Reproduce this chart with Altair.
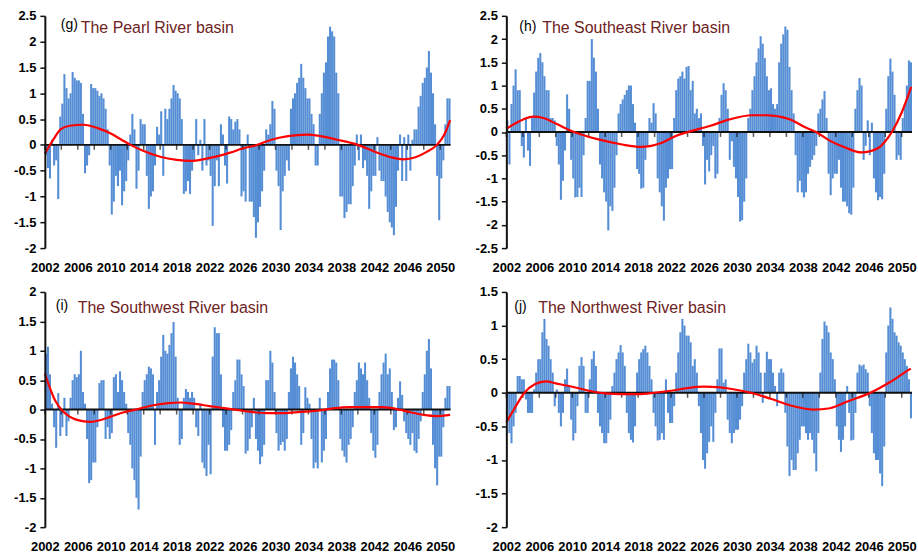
import altair as alt
import pandas as pd

START_YEAR = 2002
PER_YEAR = 4
X_END = 2051.25
LABEL_YEARS = list(range(2002, 2051, 4))
TICK_YEARS = list(range(2002, 2051, 2))

TAGS = ["(g)", "(h)", "(i)", "(j)"]
NAMES = ["The Pearl River basin", "The Southeast River basin",
         "The Southwest River basin", "The Northwest River basin"]

# quarterly values, 2002 Q1 ... 2051 Q1
PEARL = [
    -0.2, -0.45, -0.65, 0.1,   -0.4, -0.3, -1.05, 0.55,   0.8, 1.37, 1.1, 0.9,
    1.0, 1.41, 1.3, 1.25,      1.25, 1.2, 0.6, -0.55,     -0.4, -0.2, 1.18, 1.1,
    1.1, 1.05, 0.95, 1.0,      0.9, 0.7, 0.3, -0.4,       -1.35, -1.1, -0.6, -0.8,
    -0.5, -1.17, -0.9, -0.7,   -0.3, 0.2, 0.6, 0.3,       -0.85, -0.5, 0.5, 0.4,
    0.4, -0.6, -1.24, -1.0,    -0.9, -0.4, 0.35, 0.2,     0.65, -0.6, 0.7, 0.5,
    0.7, 0.9, 1.16, 1.05,      1.0, 0.9, 0.5, -0.95,      -0.9, -0.7, -0.95, -0.5,
    -0.3, 0.5, -0.2, 0.1,      -0.5, 0.5, -0.4, -0.3,     -0.6, -1.57, -0.8, -0.3,
    -0.8, 0.4, 0.2, -0.4,      -0.75, 0.55, 0.5, 0.3,     0.45, 0.5, 0.3, -1.0,
    -0.9, -1.1, 0.2, -1.1,     -1.1, -1.4, -1.8, -1.5,    -1.2, -0.9, -0.5, 0.3,
    0.2, 0.4, 0.85, 0.7,       -0.5, -0.8, -1.65, -0.9,   -0.6, -0.3, -0.5, 0.7,
    0.9, 1.0, 1.2, 1.3,        1.57, 1.3, 1.1, 0.9,       0.9, 0.6, 0.4, -0.4,
    -0.4, 0.6, 1.0, 1.4,       1.6, 2.1, 2.29, 2.2,       2.1, 1.4, 1.0, -1.0,
    -1.0, -1.42, -1.3, -1.15,  -1.15, -0.8, -0.4, 0.2,    -0.3, 0.2, -0.45, -0.3,
    -0.6, -1.24, -0.9, -0.6,   -0.6, 0.15, -0.5, -0.7,    -0.7, -1.0, -1.3, -1.5,
    -1.6, -1.75, -1.2, -0.5,   0.2, -0.7, 0.15, -0.7,     0.2, -0.5, 0.1, 0.3,
    0.3, 0.74, 0.95, 1.2,      1.3, 1.5, 1.82, 1.4,       1.0, 0.4, -0.6, -1.46,
    -0.65, -0.3, 0.4, 0.9,     0.9,
]
SOUTHEAST = [
    0.25, -0.7, 0.6, 1.0,      1.35, 0.9, 0.9, -0.3,      -0.55, 0.3, -0.4, -0.73,
    0.3, 0.85, 1.3, 1.6,       1.7, 1.5, 1.2, 0.9,        0.9, 0.3, 0.3, 0.25,
    -0.3, -0.7, -1.46, -1.05,  -0.4, 0.81, 0.5, -0.6,     -1.0, -1.41, -1.4, -1.2,
    -1.4, -0.5, 0.3, 1.1,      1.1, 2.0, 1.6, 1.3,        0.5, -0.7, -1.0, -1.3,
    -1.5, -2.12, -1.6, -1.7,   -1.2, -0.5, 0.4, 0.6,      0.7, 0.8, 0.9, 1.0,
    1.0, 0.6, 0.2, -0.8,       -0.9, -1.22, -1.2, -0.6,   -0.3, 0.3, 0.2, 0.62,
    0.4, -1.0, -1.3, -1.6,     -1.91, -1.2, -1.0, -0.8,   -0.8, 0.3, 0.9, 1.15,
    1.2, 1.3, 1.15, 1.4,       1.42, 0.9, 1.1, 0.4,       0.5, 0.3, 0.4, -0.3,
    -1.13, -0.6, -0.85, -0.5,  -0.3, -1.0, -0.9, 0.3,     0.8, 1.05, 0.9, 0.5,
    -0.6, -0.2, -0.75, -1.0,   -1.4, -1.93, -1.9, -1.5,   -1.0, 0.3, 0.5, 0.9,
    1.2, 1.5, 1.8, 2.06,       1.9, 1.59, 1.2, 0.9,       0.94, 0.6, 0.5, 0.6,
    1.5, 1.9, 2.1, 2.27,       2.2, 1.4, 0.9, 0.4,        -0.5, -1.3, -1.05, -1.3,
    -1.41, -1.3, -0.9, -0.75,  -0.6, -0.5, -0.3, 0.4,     0.5, 0.7, 0.88, 0.3,
    -0.9, -1.36, -1.0, -0.9,   -0.9, -0.6, -1.2, -1.5,    -1.5, -1.6, -1.75, -1.78,
    -1.2, 0.5, 0.9, 1.16,      1.0, -0.6, -0.3, 0.25,     -0.5, 0.2, -1.0, -1.3,
    -1.47, -1.4, -1.45, -0.9,  0.5, 1.2, 1.58, 1.3,       0.8, -0.6, -0.5, -0.6,
    0.3, 0.6, 1.0, 1.54,       1.5,
]
SOUTHWEST = [
    0.95, 1.07, 0.6, 0.1,      -0.3, -0.65, 0.28, -0.45,  -0.3, 0.2, -0.45, -0.2,
    0.2, 0.5, 0.6, 0.55,       0.6, 1.0, 0.3, 0.1,        -0.5, -1.25, -1.2, -0.9,
    -0.9, -0.3, 0.45, 0.5,     0.5, -0.5, -0.3, -0.5,     -0.4, 0.55, 0.6, 0.3,
    0.65, 0.5, 0.3, 0.1,       -0.4, -0.6, -1.0, -1.2,    -1.5, -1.7, -0.8, 0.3,
    0.5, 0.6, 0.73, 0.7,       0.6, -0.6, 0.3, 0.5,       0.9, 1.27, 1.0, 0.95,
    1.1, 1.3, 1.49, 0.9,       0.2, -0.6, -0.5, 0.2,      0.35, 0.3, 0.2, 0.3,
    0.2, -0.3, -0.45, 0.1,     -0.9, -1.0, -1.13, -0.6,   -1.1, 0.9, 1.4, 1.3,
    1.3, 0.6, -0.3, -0.7,      -0.7, -0.6, -0.35, 0.3,    0.5, 0.85, 0.85, 0.6,
    0.4, -0.75, -0.7, -0.5,    -0.3, 0.2, -0.5, -0.7,     -0.93, -0.8, -0.6, 0.5,
    0.5, 1.0, 0.8, 0.3,        -0.4, -0.7, -0.6, -0.55,   -0.7, -0.5, 0.3, 0.7,
    0.9, 0.8, 0.6, 0.4,        -0.6, -0.4, 0.38, 0.2,     0.1, -0.5, -1.0, -0.9,
    -1.0, 0.2, -0.9, -0.7,     -0.5, 0.3, 0.7, 0.85,      0.85, 0.8, 0.5, -0.5,
    -0.7, -0.8, -0.9, -0.6,    -0.5, -0.3, 0.3, 0.5,      0.8, 0.7, 0.6, 0.8,
    0.5, 0.2, -0.4, -0.7,      -0.82, -0.6, 0.3, 0.6,     0.8, 0.95, 0.6, 0.7,
    0.3, -0.35, -0.3, 0.2,     0.48, 0.25, -0.2, -0.4,    -0.5, -0.6, -0.4, -0.7,
    -0.74, -0.5, -0.2, 0.3,    0.6, 1.0, 1.2, 0.7,        -0.6, -1.0, -1.29, -0.8,
    -0.8, -0.3, 0.2, 0.4,      0.4,
]
NORTHWEST = [
    -0.4, -0.6, -0.75, -0.5,   -0.3, 0.25, 0.25, 0.2,     0.2, -0.1, -0.3, -0.3,
    -0.3, 0.05, 0.3, 0.5,      0.5, 0.9, 1.1, 0.8,        0.7, 0.5, 0.3, -0.2,
    0.05, -0.3, -0.5, -0.3,    0.2, 0.36, 0.1, -0.4,      -0.71, -0.6, -0.2, 0.4,
    0.53, 0.4, -0.3, -0.3,     0.2, 0.5, 0.62, 0.4,       -0.3, -0.5, -0.6, -0.75,
    -0.75, -0.6, -0.4, 0.1,    0.3, 0.5, 0.6, 0.71,       0.6, 0.4, -0.3, -0.6,
    -0.7, -0.74, -0.5, 0.3,    0.5, 0.6, 0.65, 0.7,       0.6, 0.4, 0.2, -0.3,
    -0.5, -0.71, -0.7, -0.6,   -0.7, 0.2, -0.3, -0.45,    -0.45, -0.2, 0.3, 0.6,
    0.9, 1.1, 1.0, 0.85,       0.85, 0.75, 0.4, 0.5,      0.3, -0.2, -0.6, -1.0,
    -1.13, -0.9, -0.73, -0.5,  -0.73, -0.3, 0.2, 0.66,    0.66, 0.15, 0.2, -0.4,
    -0.6, -0.75, -0.6, -0.55,  -0.55, -0.4, -0.2, 0.3,    0.5, 0.73, 0.6, 0.45,
    0.5, 0.7, 0.6, 0.3,        -0.15, 0.3, 0.61, 0.5,     0.5, 0.3, 0.1, -0.2,
    0.3, 0.36, 0.3, -0.3,      -0.8, -1.24, -1.0, -1.15,  -1.15, -0.9, -0.7, -0.5,
    -0.5, -0.6, -0.7, -0.6,    -0.7, -0.9, -1.17, -0.6,   0.3, 0.8, 1.06, 1.0,
    0.9, 0.6, 0.5, 0.2,        -0.5, -0.7, -0.88, -0.7,   -0.5, 0.1, -0.3, -0.71,
    -0.7, -0.3, 0.3, 0.42,     0.4, 0.42, 0.35, 0.3,      -0.2, -0.6, -0.9, -1.0,
    -1.0, -1.2, -1.39, -0.8,   0.6, 1.0, 1.27, 1.1,       0.9, 0.85, 0.75, 0.7,
    0.6, 0.5, 0.4, 0.2,        -0.38,
]

# trend curves (red)
PEARL_TREND_T = [2002, 2003.1, 2003.9, 2005, 2006.7, 2008.5, 2010, 2011.3, 2012.4, 2014,
                 2016, 2018, 2019.7, 2021.5, 2024.5, 2026, 2027.8, 2029.5, 2031.5, 2033.8,
                 2035.5, 2037.5, 2040, 2042, 2044, 2045.5, 2047, 2048.3, 2049.6, 2050.5, 2051.2]
PEARL_TREND_V = [-0.17, 0.12, 0.3, 0.37, 0.39, 0.32, 0.22, 0.1, 0.0, -0.12,
                 -0.23, -0.29, -0.31, -0.27, -0.15, -0.07, 0.0, 0.1, 0.17, 0.2,
                 0.17, 0.1, 0.0, -0.13, -0.24, -0.28, -0.24, -0.14, 0.0, 0.2, 0.48]
SOUTHEAST_TREND_T = [2002, 2004.05, 2005.25, 2006.5, 2008, 2010.2, 2013.2, 2016.05, 2018.3,
                     2020.9, 2022.5, 2024.05, 2026.7, 2029.1, 2031.8, 2033.6, 2036.3,
                     2038.4, 2039.6, 2041.2, 2043.2, 2045.1, 2047.1, 2048.0, 2048.8,
                     2050, 2051.15]
SOUTHEAST_TREND_V = [0.07, 0.27, 0.33, 0.3, 0.18, 0.0, -0.16, -0.27, -0.32,
                     -0.23, -0.09, 0.0, 0.13, 0.27, 0.36, 0.36, 0.28,
                     0.09, 0.0, -0.18, -0.34, -0.44, -0.35, -0.2, 0.0,
                     0.42, 0.97]
SOUTHWEST_TREND_T = [2002, 2003.3, 2004, 2005, 2006, 2007.5, 2009, 2010, 2011.5, 2013,
                     2015, 2017, 2018.5, 2020, 2022, 2024, 2025.5, 2027, 2029, 2031,
                     2033, 2035, 2037, 2039, 2041, 2043, 2045, 2046.5, 2048, 2049.5, 2051.2]
SOUTHWEST_TREND_V = [0.61, 0.14, 0.0, -0.12, -0.18, -0.21, -0.17, -0.12, -0.05, 0.0,
                     0.07, 0.11, 0.12, 0.1, 0.06, 0.02, -0.01, -0.04, -0.06, -0.06,
                     -0.04, -0.02, 0.02, 0.04, 0.04, 0.04, 0.0, -0.05, -0.09, -0.11, -0.09]
NORTHWEST_TREND_T = [2002, 2003, 2004.2, 2005.5, 2006.8, 2008, 2010, 2012, 2014, 2016,
                     2018, 2020, 2022, 2024, 2026, 2028, 2029.2, 2031.7, 2034.1, 2036.5,
                     2039.3, 2041.3, 2043.4, 2046.2, 2048.6, 2050.7, 2051.1]
NORTHWEST_TREND_V = [-0.44, -0.23, 0.0, 0.13, 0.17, 0.14, 0.09, 0.03, -0.01, -0.02,
                     -0.02, 0.0, 0.03, 0.07, 0.09, 0.08, 0.06, 0.0, -0.09, -0.19,
                     -0.25, -0.23, -0.13, 0.0, 0.16, 0.33, 0.36]

Y_DOMAINS = [(-2.0, 2.5), (-2.5, 2.5), (-2.0, 2.0), (-2.0, 1.5)]

BLUE = "#558ED5"
RED = "#FF0000"
NAME_COLOR = "#6E2222"
AXIS_COLOR = "#111111"
FONT = "Liberation Sans"


def quarter_frame(vals):
    t0 = [START_YEAR + k / PER_YEAR for k in range(len(vals))]
    return pd.DataFrame({"t0": t0, "t1": [a + 1.0 / PER_YEAR for a in t0], "v": vals})


def panel(vals, tt, tv, ydom, tag, name, w, h, tag_pos, name_pos):
    lo, hi = ydom
    ticks_y = [lo + 0.5 * k for k in range(int(round((hi - lo) / 0.5)) + 1)]
    xs = alt.Scale(domain=[START_YEAR, X_END], nice=False, zero=False)
    ys = alt.Scale(domain=[lo, hi], nice=False, zero=False)
    xaxis = alt.Axis(values=LABEL_YEARS, format="d", domain=False, ticks=False,
                     grid=False, labelFlush=False, labelOverlap=False, labelPadding=13,
                     labelFontSize=13, labelFontWeight="bold", labelColor="black",
                     title=None)
    # value axis: line on the left edge, outward ticks every 0.5
    yaxis = alt.Axis(values=ticks_y, labelExpr="toString(datum.value)", grid=False,
                     domain=True, domainColor=AXIS_COLOR, domainWidth=2, domainOpacity=1,
                     ticks=True, tickColor=AXIS_COLOR, tickWidth=1.5, tickSize=5,
                     tickOpacity=1, labelPadding=4, labelFontSize=13,
                     labelFontWeight="bold", labelColor="black", title=None,
                     labelOverlap=False, labelFlush=False, zindex=2)

    def X(field):
        return alt.X(field, type="quantitative", scale=xs, axis=xaxis)

    def Y(field):
        return alt.Y(field, type="quantitative", scale=ys, axis=yaxis)

    df = quarter_frame(vals)
    bars = alt.Chart(df).mark_bar(color=BLUE).encode(
        x=X("t0"), x2=alt.X2("t1"), y=Y("v"), y2=alt.datum(0),
    )
    # zero line with small tick marks every two years
    zero = alt.Chart(pd.DataFrame({"t": [START_YEAR], "z": [0.0]})).mark_rule(
        color=AXIS_COLOR, strokeWidth=2, clip=False).encode(y=Y("z"))
    tks = alt.Chart(pd.DataFrame({"t": TICK_YEARS, "z": [0.0] * len(TICK_YEARS)})).mark_tick(
        color=AXIS_COLOR, orient="vertical", size=5, thickness=1.5, yOffset=2.5, clip=False
    ).encode(x=X("t"), y=Y("z"))
    trend = alt.Chart(pd.DataFrame({"t": tt, "v": tv})).mark_line(
        color=RED, strokeWidth=2.2, interpolate="monotone", clip=False
    ).encode(x=X("t"), y=Y("v"))
    one = pd.DataFrame({"a": [0]})
    tag_txt = alt.Chart(one).mark_text(
        align="left", baseline="alphabetic", fontSize=14, color="black", font=FONT
    ).encode(x=alt.value(tag_pos[0]), y=alt.value(tag_pos[1]), text=alt.value(tag))
    name_txt = alt.Chart(one).mark_text(
        align="left", baseline="alphabetic", fontSize=16, color=NAME_COLOR, font=FONT
    ).encode(x=alt.value(name_pos[0]), y=alt.value(name_pos[1]), text=alt.value(name))
    return alt.layer(bars, zero, tks, trend, tag_txt, name_txt).properties(
        width=w, height=h)


g = panel(PEARL, PEARL_TREND_T, PEARL_TREND_V, Y_DOMAINS[0], TAGS[0], NAMES[0],
          407, 233, (16, 13), (36, 17))
hh = panel(SOUTHEAST, SOUTHEAST_TREND_T, SOUTHEAST_TREND_V, Y_DOMAINS[1], TAGS[1], NAMES[1],
           407, 233, (13, 15), (36, 17))
i = panel(SOUTHWEST, SOUTHWEST_TREND_T, SOUTHWEST_TREND_V, Y_DOMAINS[2], TAGS[2], NAMES[2],
          407, 236, (11, 18), (33, 21))
j = panel(NORTHWEST, NORTHWEST_TREND_T, NORTHWEST_TREND_V, Y_DOMAINS[3], TAGS[3], NAMES[3],
          407, 236, (8, 19), (32, 21))

top = alt.hconcat(g, hh, spacing=19).resolve_scale(x="independent", y="independent")
bottom = alt.hconcat(i, j, spacing=19).resolve_scale(x="independent", y="independent")
chart = alt.vconcat(top, bottom, spacing=12).resolve_scale(
    x="independent", y="independent"
).properties(
    padding={"left": 13, "top": 9, "right": 1, "bottom": 1},
    background="white",
).configure(
    font=FONT, view=alt.ViewConfig(stroke=None)
)

chart.save("out.html", embed_options={"renderer": "svg", "actions": False})
